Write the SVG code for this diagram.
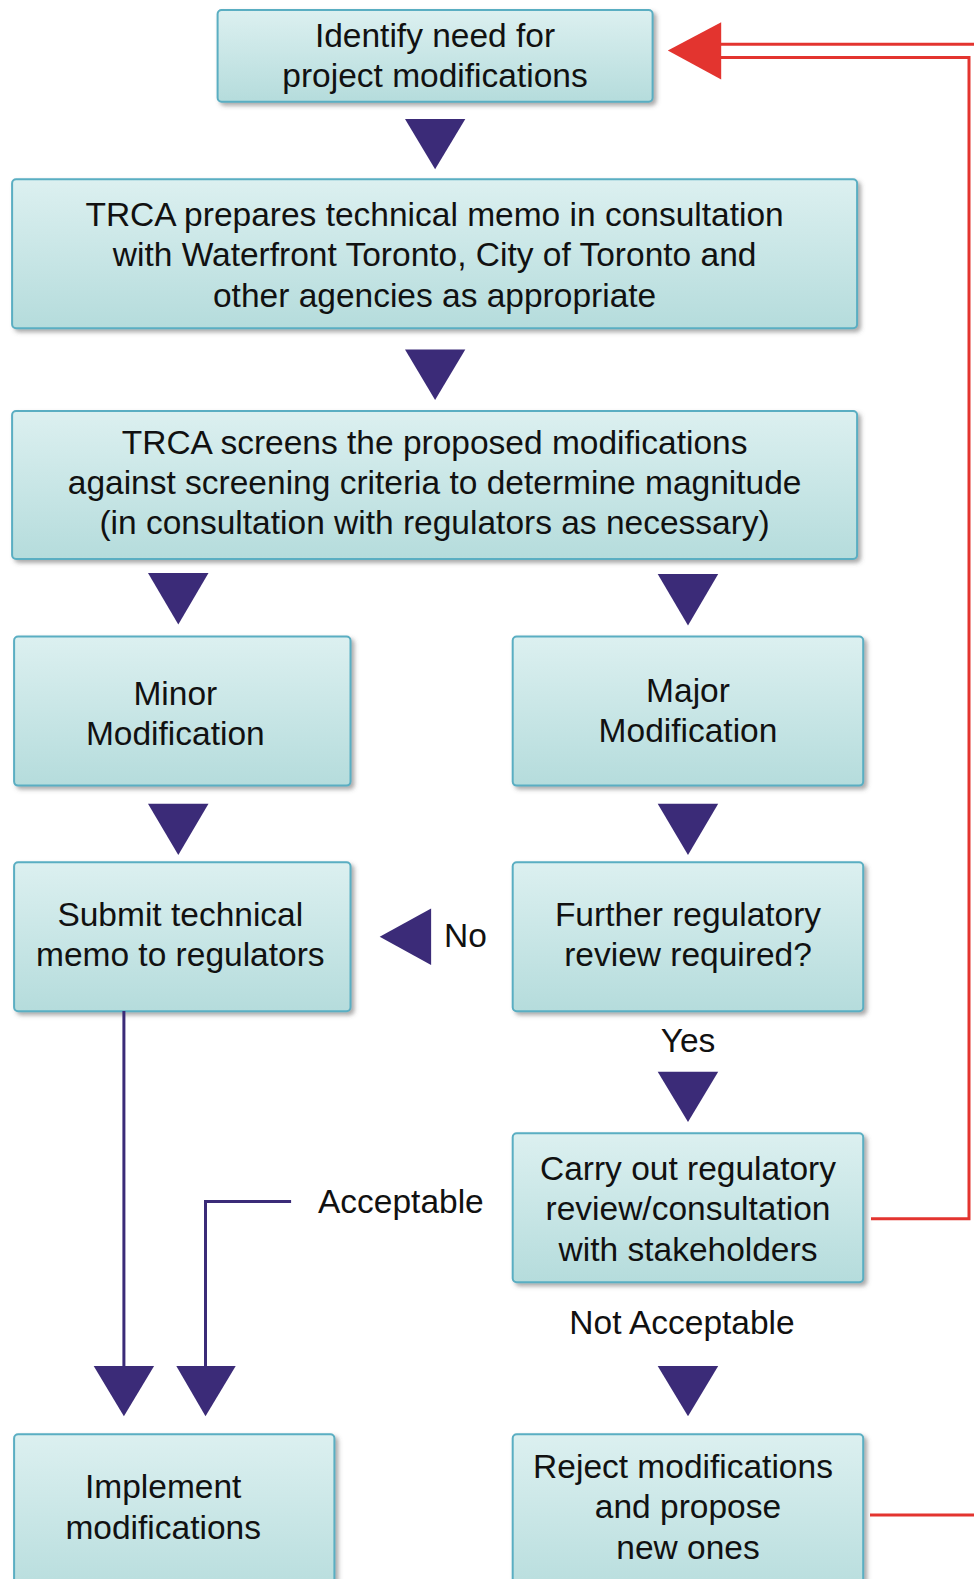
<svg xmlns="http://www.w3.org/2000/svg" width="974" height="1579" viewBox="0 0 974 1579">
<defs>
<linearGradient id="bg" x1="0" y1="0" x2="0" y2="1">
<stop offset="0" stop-color="#dcf0f0"/>
<stop offset="1" stop-color="#b5dcdc"/>
</linearGradient>
<filter id="sh" x="-5%" y="-5%" width="110%" height="115%">
<feDropShadow dx="3" dy="3" stdDeviation="2" flood-color="#555" flood-opacity="0.5"/>
</filter>
</defs>
<style>
.box{fill:url(#bg);stroke:#5aaec2;stroke-width:2;filter:url(#sh)}
.t{font-family:"Liberation Sans",Arial,sans-serif;font-size:33.5px;fill:#111;text-anchor:middle;dominant-baseline:central}
.lab{font-family:"Liberation Sans",Arial,sans-serif;font-size:33.5px;fill:#111;dominant-baseline:central}
.tri{fill:#3b2b78}
.pl{fill:none;stroke:#3b2b78;stroke-width:3}
.rl{fill:none;stroke:#e3342f;stroke-width:3}
.rtri{fill:#e3342f}
</style>
<rect width="974" height="1579" fill="#ffffff"/>
<g id="n1"><rect class="box" x="217.6" y="10.1" width="435" height="91.6" rx="4"/>
<text class="t" x="435" y="35.3">Identify need for</text><text class="t" x="435" y="75.5">project modifications</text></g>
<g id="n2"><rect class="box" x="12.1" y="179.3" width="845" height="149" rx="4"/>
<text class="t" x="434.6" y="214.5">TRCA prepares technical memo in consultation</text>
<text class="t" x="434.6" y="254.8">with Waterfront Toronto, City of Toronto and</text>
<text class="t" x="434.6" y="295.1">other agencies as appropriate</text></g>
<g id="n3"><rect class="box" x="12.1" y="411" width="845" height="148" rx="4"/>
<text class="t" x="434.6" y="442.2">TRCA screens the proposed modifications</text>
<text class="t" x="434.6" y="482.5">against screening criteria to determine magnitude</text>
<text class="t" x="434.6" y="522.8">(in consultation with regulators as necessary)</text></g>
<g id="n4"><rect class="box" x="14.1" y="636.6" width="336.4" height="149" rx="4"/>
<text class="t" x="175.3" y="693">Minor</text><text class="t" x="175.3" y="733.3">Modification</text></g>
<g id="n5"><rect class="box" x="512.7" y="636.6" width="350.5" height="149" rx="4"/>
<text class="t" x="688" y="690">Major</text><text class="t" x="688" y="730.2">Modification</text></g>
<g id="n6"><rect class="box" x="14.1" y="862.2" width="336.4" height="149" rx="4"/>
<text class="t" x="180.3" y="914.6">Submit technical</text><text class="t" x="180.3" y="954.9">memo to regulators</text></g>
<g id="n7"><rect class="box" x="512.7" y="862.2" width="350.5" height="149" rx="4"/>
<text class="t" x="688" y="914.6">Further regulatory</text><text class="t" x="688" y="954.9">review required?</text></g>
<g id="n8"><rect class="box" x="512.7" y="1133.2" width="350.5" height="149" rx="4"/>
<text class="t" x="688" y="1168.4">Carry out regulatory</text><text class="t" x="688" y="1208.7">review/consultation</text><text class="t" x="688" y="1249">with stakeholders</text></g>
<g id="n9"><rect class="box" x="14.1" y="1434.3" width="320.3" height="170" rx="4"/>
<text class="t" x="163.2" y="1486.7">Implement</text><text class="t" x="163.2" y="1527">modifications</text></g>
<g id="n10"><rect class="box" x="512.7" y="1434.3" width="350.5" height="170" rx="4"/>
<text class="t" x="683" y="1466.5">Reject modifications</text><text class="t" x="688" y="1506.8">and propose</text><text class="t" x="688" y="1547.1">new ones</text></g>
<g id="connectors">
<polygon class="tri" points="405,118.9 465.3,118.9 435.1,169.2"/>
<polygon class="tri" points="405,349.5 465.3,349.5 435.1,399.9"/>
<polygon class="tri" points="148,573.1 208.5,573.1 178.3,624.5"/>
<polygon class="tri" points="657.7,574.1 718.2,574.1 688,625.5"/>
<polygon class="tri" points="148,803.8 208.5,803.8 178.3,855.1"/>
<polygon class="tri" points="657.7,803.8 718.2,803.8 688,855.1"/>
<polygon class="tri" points="431.1,908.5 431.1,964.9 379.7,936.7"/>
<text class="lab" x="444" y="935">No</text>
<text class="t" x="688" y="1040.5">Yes</text>
<polygon class="tri" points="657.7,1071.7 718.2,1071.7 688,1122"/>
<path class="pl" d="M123.9,1011 V1368"/>
<path class="pl" d="M291.1,1201.6 H205.5 V1368"/>
<text class="lab" x="318" y="1201">Acceptable</text>
<polygon class="tri" points="93.7,1366 154.1,1366 123.9,1416.2"/>
<polygon class="tri" points="176.3,1366 235.7,1366 205.5,1416.2"/>
<text class="t" x="682" y="1322.5">Not Acceptable</text>
<polygon class="tri" points="657.7,1366 718.2,1366 688,1416.2"/>
<path class="rl" d="M871,1218.7 H969 V57.4 H720"/>
<path class="rl" d="M720,44.3 H976"/>
<path class="rl" d="M870,1514.9 H976"/>
<polygon class="rtri" points="721.2,22.2 721.2,79.6 667.8,50.4"/>
</g>
</svg>
